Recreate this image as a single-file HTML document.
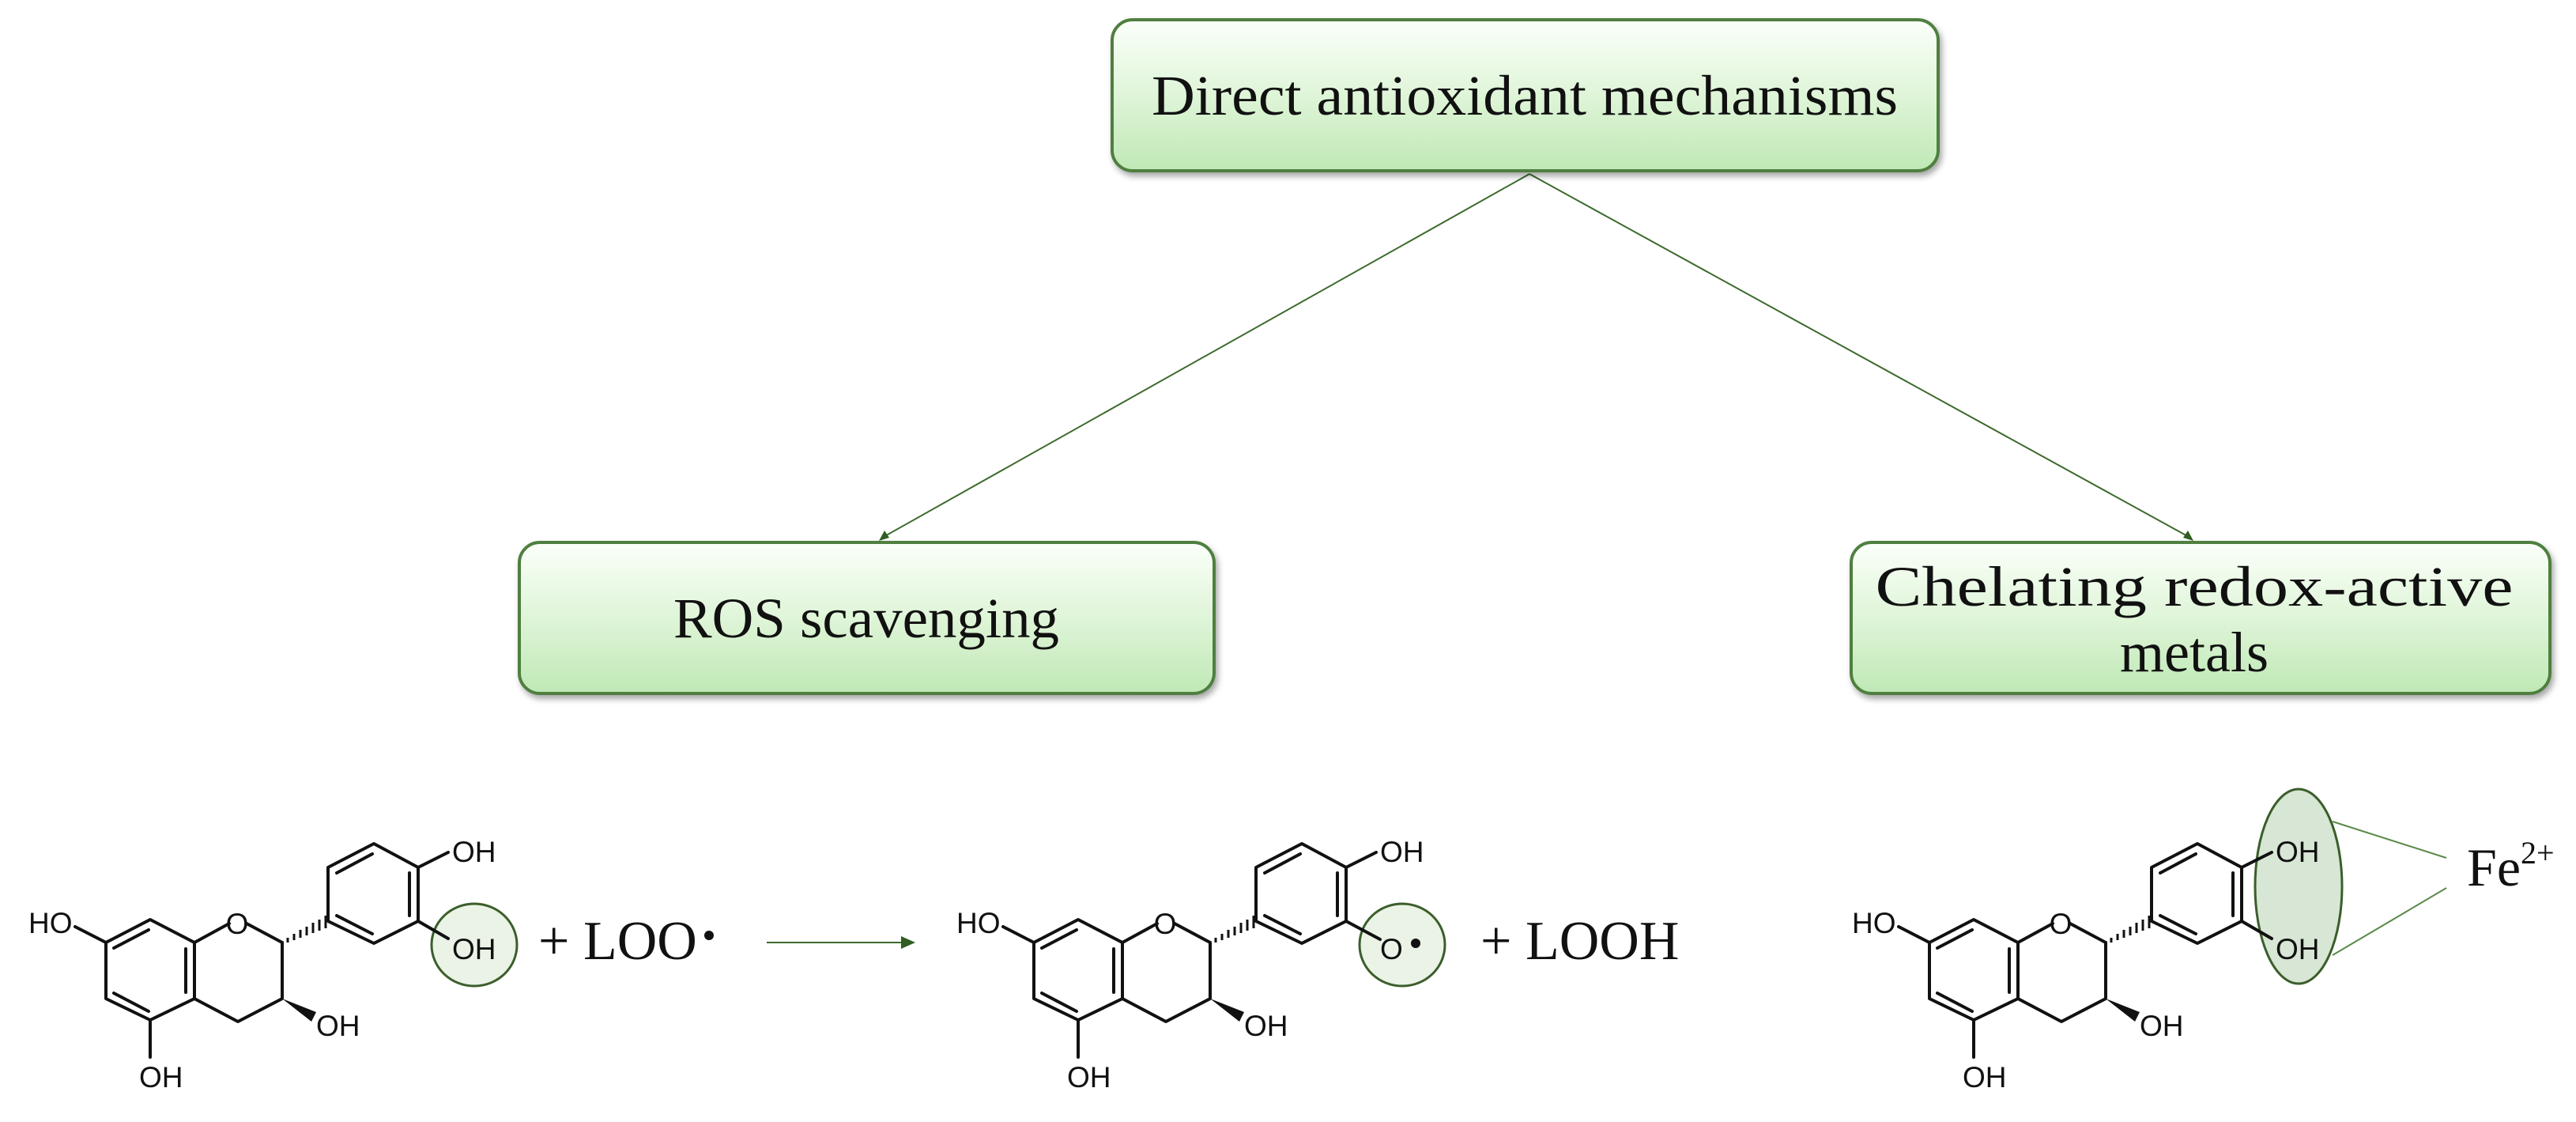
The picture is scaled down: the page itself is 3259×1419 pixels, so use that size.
<!DOCTYPE html>
<html><head><meta charset="utf-8"><style>
html,body{margin:0;padding:0;background:#fff;}
svg{display:block;}
.t{font-family:"Liberation Sans",Arial,sans-serif;font-size:37px;fill:#111;}
.s{font-family:"Liberation Serif",serif;fill:#111;}
</style></head><body>
<svg width="3259" height="1419" viewBox="0 0 3259 1419" xmlns="http://www.w3.org/2000/svg">
<defs>
<linearGradient id="g" x1="0" y1="0" x2="0" y2="1">
<stop offset="0" stop-color="#fbfffa"/><stop offset="0.5" stop-color="#dff5d8"/><stop offset="1" stop-color="#bfe8b5"/>
</linearGradient>
<filter id="sh" x="-5%" y="-10%" width="110%" height="130%"><feDropShadow dx="3" dy="5" stdDeviation="4" flood-color="#000" flood-opacity="0.35"/></filter>
<g id="mol">
<g fill="none" stroke="#111" stroke-width="4" stroke-linejoin="round" stroke-linecap="round">
<polyline points="290,168 246,192 190,163 134,192 134,263 190,290 246,263 246,192"/>
<line x1="312" y1="168" x2="357" y2="192"/>
<polyline points="357,192 357,263 301,292 246,263"/>
<line x1="144" y1="199" x2="188" y2="176"/>
<line x1="144" y1="256" x2="188" y2="279"/>
<line x1="235" y1="200" x2="235" y2="255"/>
<polygon points="415,165 415,97 473,67 529,97 529,165 473,193"/>
<line x1="426" y1="104" x2="471" y2="80"/>
<line x1="518" y1="104" x2="518" y2="158"/>
<line x1="426" y1="158" x2="471" y2="181"/>
<line x1="529" y1="97" x2="567" y2="78"/>
<line x1="134" y1="192" x2="95" y2="172"/>
<line x1="190" y1="290" x2="190" y2="337"/>
</g>
<g stroke="#111" stroke-width="3">
<line x1="364" y1="186" x2="364" y2="192"/><line x1="372" y1="181" x2="372" y2="189"/><line x1="380" y1="176" x2="380" y2="186"/><line x1="388" y1="172" x2="388" y2="183"/><line x1="396" y1="167" x2="396" y2="180"/><line x1="404" y1="163" x2="404" y2="177"/><line x1="412" y1="158" x2="412" y2="174"/>
</g>
<polygon points="357,263 400,280 394,292" fill="#111"/>
<text class="t" x="300" y="181" text-anchor="middle">O</text>
<text class="t" x="36" y="180">HO</text>
<text class="t" x="572" y="90">OH</text>
<text class="t" x="400" y="310">OH</text>
<text class="t" x="176" y="375">OH</text>
</g>
</defs>

<!-- connectors -->
<g stroke="#3d6b2e" stroke-width="2" fill="#2f5d22">
<line x1="1935" y1="220" x2="1116" y2="680"/>
<line x1="1935" y1="220" x2="2771" y2="680"/>
<polygon points="1112,684 1119,671 1125,680" stroke="none"/>
<polygon points="2775,684 2762,680 2768,671" stroke="none"/>
<line x1="970" y1="1192" x2="1142" y2="1192"/>
<polygon points="1140,1184 1158,1192 1140,1200" stroke="none"/>
<line x1="2951" y1="1039" x2="3095" y2="1085" stroke="#5a8a4a"/>
<line x1="2951" y1="1208" x2="3095" y2="1123" stroke="#5a8a4a"/>
</g>

<!-- boxes -->
<g filter="url(#sh)" stroke="#4f7f3f" stroke-width="4" fill="url(#g)">
<rect x="1407" y="25" width="1045" height="191" rx="26"/>
<rect x="657" y="686" width="879" height="191" rx="26"/>
<rect x="2342" y="686" width="884" height="191" rx="26"/>
</g>
<text class="s" x="1929" y="145" font-size="72" text-anchor="middle" textLength="944" lengthAdjust="spacingAndGlyphs">Direct antioxidant mechanisms</text>
<text class="s" x="1096" y="806" font-size="72" text-anchor="middle" textLength="488" lengthAdjust="spacingAndGlyphs">ROS scavenging</text>
<text class="s" x="2776" y="766" font-size="72" text-anchor="middle" textLength="807" lengthAdjust="spacingAndGlyphs">Chelating redox-active</text>
<text class="s" x="2776" y="849" font-size="72" text-anchor="middle">metals</text>

<!-- highlights -->
<ellipse cx="600" cy="1195" rx="54" ry="52" fill="#eaf3e6" stroke="#3b5e2b" stroke-width="3"/>
<ellipse cx="1774" cy="1195" rx="54" ry="52" fill="#eaf3e6" stroke="#3b5e2b" stroke-width="3"/>
<ellipse cx="2908" cy="1121" rx="55" ry="123" fill="#d8e6d5" stroke="#3b5e2b" stroke-width="3"/>

<!-- molecule 1 -->
<g transform="translate(0,1000)">
<use href="#mol"/>
<line x1="529" y1="165" x2="567" y2="187" stroke="#111" stroke-width="4" stroke-linecap="round"/>
<text class="t" x="572" y="213">OH</text>
</g>
<!-- molecule 2 -->
<g transform="translate(1174,1000)">
<use href="#mol"/>
<line x1="529" y1="165" x2="572" y2="188" stroke="#111" stroke-width="4" stroke-linecap="round"/>
<text class="t" x="572" y="213">O</text>
<circle cx="617" cy="193" r="6" fill="#111"/>
</g>
<!-- molecule 3 -->
<g transform="translate(2307,1000)">
<use href="#mol"/>
<line x1="529" y1="165" x2="567" y2="187" stroke="#111" stroke-width="4" stroke-linecap="round"/>
<text class="t" x="572" y="213">OH</text>
</g>

<!-- reaction text -->
<text class="s" x="681" y="1213" font-size="70">+ LOO</text>
<circle cx="897" cy="1183" r="6" fill="#111"/>
<text class="s" x="1873" y="1213" font-size="70">+ LOOH</text>
<text class="s" x="3121" y="1120" font-size="68">Fe<tspan font-size="40" dy="-28">2+</tspan></text>
</svg>
</body></html>
